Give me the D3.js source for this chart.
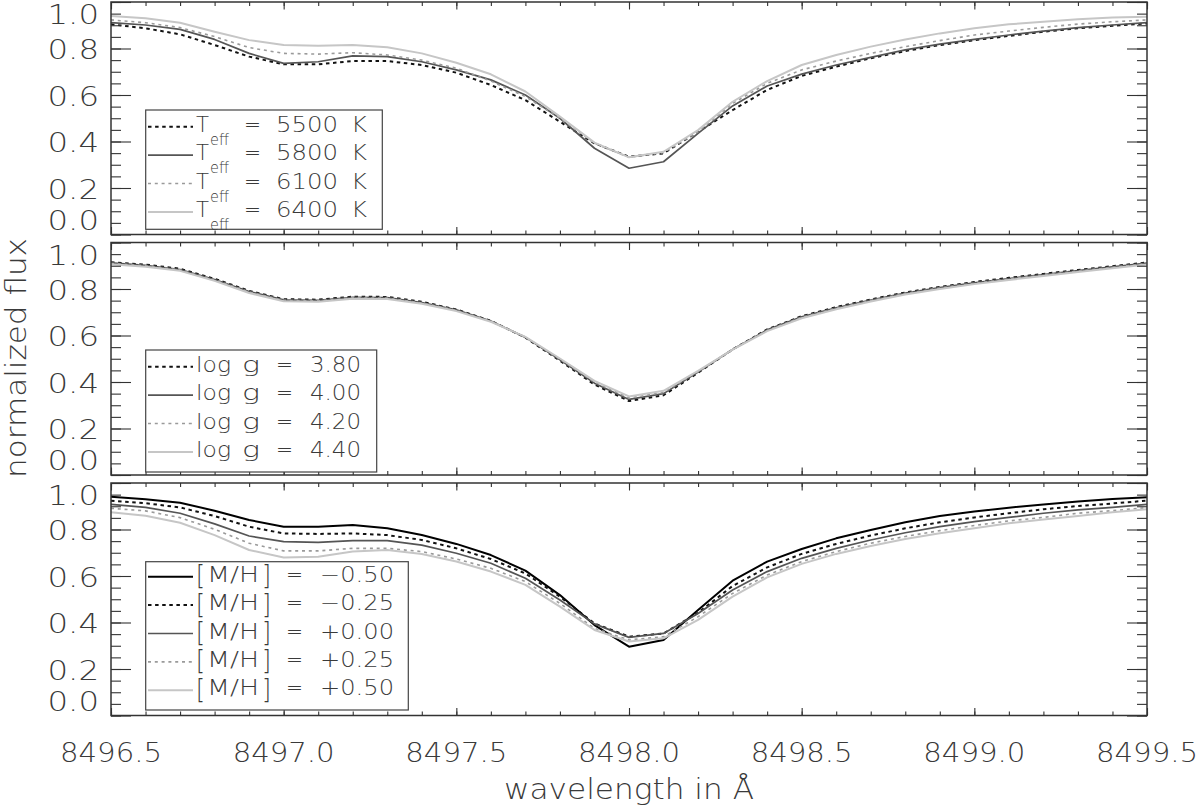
<!DOCTYPE html>
<html><head><meta charset="utf-8">
<script src="https://cdn.jsdelivr.net/npm/d3@7"></script>
<style>
body{margin:0;background:#fff;}
svg text{font-family:"DejaVu Sans",sans-serif;font-weight:200;fill:#3a3a3a;}
</style></head><body><svg id="c" width="1200" height="807"></svg>
<script>
// ---------------- data ----------------
const wavelength = [8496.5,8496.6,8496.7,8496.8,8496.9,8497.0,8497.1,8497.2,8497.3,8497.4,8497.5,8497.6,8497.7,8497.8,8497.9,8498.0,
  8498.1,8498.2,8498.3,8498.4,8498.5,8498.6,8498.7,8498.8,8498.9,8499.0,8499.1,8499.2,8499.3,8499.4,8499.5];

const teff5500 = [0.904,0.887,0.861,0.815,0.765,0.732,0.732,0.746,0.746,0.729,0.696,0.643,0.578,0.485,0.392,0.335,0.349,0.442,0.535,0.622,0.682,0.722,0.758,0.789,0.815,0.836,0.854,0.872,0.887,0.898,0.908];
const teff5800 = [0.911,0.901,0.882,0.839,0.779,0.736,0.743,0.768,0.765,0.743,0.708,0.665,0.600,0.500,0.371,0.285,0.313,0.435,0.553,0.639,0.690,0.729,0.762,0.794,0.819,0.839,0.858,0.875,0.890,0.901,0.911];
const teff6100 = [0.923,0.911,0.890,0.851,0.804,0.779,0.776,0.782,0.772,0.750,0.715,0.660,0.593,0.500,0.392,0.332,0.352,0.442,0.564,0.650,0.708,0.746,0.779,0.808,0.834,0.858,0.875,0.891,0.905,0.915,0.923];
const teff6400 = [0.940,0.930,0.911,0.872,0.836,0.815,0.812,0.815,0.805,0.779,0.739,0.689,0.615,0.507,0.395,0.332,0.356,0.449,0.571,0.660,0.729,0.772,0.808,0.839,0.865,0.887,0.904,0.915,0.926,0.933,0.937];

const logg380 = [0.915,0.905,0.887,0.844,0.792,0.756,0.754,0.767,0.766,0.745,0.712,0.663,0.591,0.492,0.389,0.318,0.343,0.440,0.540,0.626,0.683,0.722,0.755,0.785,0.809,0.830,0.848,0.865,0.882,0.898,0.914];
const logg400 = [0.912,0.902,0.884,0.841,0.789,0.753,0.751,0.764,0.763,0.742,0.710,0.662,0.592,0.495,0.395,0.325,0.350,0.443,0.540,0.624,0.680,0.719,0.752,0.782,0.806,0.827,0.845,0.862,0.879,0.895,0.911];
const logg420 = [0.910,0.900,0.882,0.839,0.787,0.751,0.749,0.762,0.761,0.740,0.708,0.661,0.593,0.498,0.400,0.331,0.355,0.445,0.540,0.622,0.678,0.717,0.750,0.780,0.804,0.825,0.843,0.860,0.877,0.893,0.909];
const logg440 = [0.906,0.896,0.878,0.835,0.783,0.747,0.745,0.758,0.757,0.737,0.705,0.659,0.594,0.501,0.405,0.338,0.362,0.448,0.539,0.619,0.674,0.713,0.746,0.776,0.800,0.821,0.839,0.856,0.873,0.889,0.905];

const mhM050 = [0.941,0.930,0.915,0.881,0.841,0.812,0.812,0.819,0.805,0.776,0.738,0.690,0.623,0.518,0.389,0.296,0.325,0.454,0.580,0.662,0.716,0.762,0.798,0.831,0.858,0.877,0.894,0.908,0.920,0.931,0.939];
const mhM025 = [0.924,0.913,0.895,0.858,0.812,0.783,0.781,0.783,0.776,0.755,0.719,0.673,0.611,0.511,0.396,0.339,0.353,0.442,0.557,0.637,0.695,0.738,0.774,0.805,0.831,0.852,0.870,0.887,0.901,0.912,0.924];
const mhP000 = [0.908,0.895,0.870,0.824,0.772,0.748,0.745,0.752,0.752,0.733,0.698,0.655,0.590,0.497,0.394,0.336,0.353,0.439,0.540,0.619,0.676,0.719,0.755,0.786,0.812,0.834,0.852,0.870,0.884,0.895,0.908];
const mhP025 = [0.891,0.880,0.851,0.801,0.741,0.708,0.708,0.719,0.719,0.705,0.673,0.633,0.576,0.482,0.375,0.325,0.339,0.425,0.525,0.604,0.662,0.705,0.741,0.770,0.795,0.817,0.837,0.852,0.870,0.881,0.894];
const mhP050 = [0.874,0.859,0.829,0.776,0.712,0.680,0.683,0.705,0.712,0.695,0.662,0.619,0.562,0.468,0.368,0.318,0.332,0.411,0.511,0.594,0.652,0.695,0.729,0.759,0.784,0.805,0.827,0.843,0.858,0.874,0.887];

const teffLabels = ["5500","5800","6100","6400"];
const loggLabels = ["3.80","4.00","4.20","4.40"];
const mhLabels = ["\u22120.50","\u22120.25","+0.00","+0.25","+0.50"];
const xTickValues = [8496.5,8497.0,8497.5,8498.0,8498.5,8499.0,8499.5];
const yTickValues = [0.0,0.2,0.4,0.6,0.8,1.0];
const xTitle = "wavelength in \u00C5";
const yTitle = "normalized flux";

// ---------------- styles ----------------
const ST = {
  blackSolid: {stroke:"#000", w:2.0, dash:null},
  blackDot:   {stroke:"#111", w:2.0, dash:"3.5,3.6"},
  darkSolid:  {stroke:"#555", w:1.7, dash:null},
  grayDot:    {stroke:"#9a9a9a", w:1.6, dash:"3,3.8"},
  lightSolid: {stroke:"#c6c6c6", w:2.0, dash:null}
};

const svg = d3.select("#c");
const x = d3.scaleLinear().domain([8496.5, 8499.5]).range([111, 1147]);

const panels = [
  {top:2, bottom:234.5, kind:"teff",
   series:[{v:teff5500,s:ST.blackDot},{v:teff5800,s:ST.darkSolid},{v:teff6100,s:ST.grayDot},{v:teff6400,s:ST.lightSolid}],
   box:[145.7,110,382.3,229.3], base0:131.7},
  {top:242.5, bottom:475, kind:"logg",
   series:[{v:logg380,s:ST.blackDot},{v:logg400,s:ST.darkSolid},{v:logg420,s:ST.grayDot},{v:logg440,s:ST.lightSolid}],
   box:[145.7,350,376.7,472], base0:371.7},
  {top:483, bottom:715.5, kind:"mh",
   series:[{v:mhM050,s:ST.blackSolid},{v:mhM025,s:ST.blackDot},{v:mhP000,s:ST.darkSolid},{v:mhP025,s:ST.grayDot},{v:mhP050,s:ST.lightSolid}],
   box:[145.7,561.7,408.3,710], base0:581.7}
];

function txt(g, str, px, py, fs, anchor, sx){
  return g.append("text").text(str)
    .attr("transform", `translate(${px},${py}) scale(${sx||1.1},1)`)
    .attr("font-size", fs).attr("text-anchor", anchor||"start");
}

const rowGap = 28.4;
const LFS = 21;
const minorX = d3.range(0, 31).map(i => 8496.5 + i*0.1);
const minorY = d3.range(0, 21).map(i => i*0.05);

// one legend row = one text element; pieces at absolute x, optional fitted width
function legendRow(g, bl, pieces){
  const t = g.append("text").attr("x", pieces[0].x).attr("y", bl).attr("font-size", LFS);
  let cur = 0;
  pieces.forEach(pc => {
    const dy = (pc.dy||0) - cur; cur = pc.dy||0;
    const ts = t.append("tspan").attr("x", pc.x).attr("dy", dy).text(pc.s);
    if (pc.fs) ts.attr("font-size", pc.fs);
    if (pc.w) ts.attr("textLength", pc.w).attr("lengthAdjust", "spacingAndGlyphs");
  });
  return t;
}

panels.forEach((p, pi) => {
  const y = d3.scaleLinear().domain([0,1]).range([p.bottom, p.top]);
  const g = svg.append("g");

  // curves
  const line = d3.line().x((d,i)=>x(wavelength[i])).y(d=>y(d));
  p.series.forEach(se => {
    g.append("path").datum(se.v).attr("d", line)
      .attr("fill","none").attr("stroke", se.s.stroke).attr("stroke-width", se.s.w)
      .attr("stroke-dasharray", se.s.dash).attr("stroke-linejoin","round");
  });

  // axes (ticks inward)
  const axCol = "#333";
  const mk = (axis, tr) => {
    const a = g.append("g").attr("transform", tr).call(axis);
    a.select(".domain").remove();
    a.selectAll("line").attr("stroke", axCol).attr("stroke-width", 1.1);
    a.selectAll("text").remove();
  };
  mk(d3.axisLeft(y).tickValues(minorY).tickSize(-10).tickSizeOuter(0), `translate(${x.range()[0]},0)`);
  mk(d3.axisLeft(y).tickValues(yTickValues).tickSize(-20).tickSizeOuter(0), `translate(${x.range()[0]},0)`);
  mk(d3.axisRight(y).tickValues(minorY).tickSize(-10).tickSizeOuter(0), `translate(${x.range()[1]},0)`);
  mk(d3.axisRight(y).tickValues(yTickValues).tickSize(-20).tickSizeOuter(0), `translate(${x.range()[1]},0)`);
  mk(d3.axisTop(x).tickValues(minorX).tickSize(-4).tickSizeOuter(0), `translate(0,${p.top})`);
  mk(d3.axisTop(x).tickValues(xTickValues).tickSize(-7.5).tickSizeOuter(0), `translate(0,${p.top})`);
  mk(d3.axisBottom(x).tickValues(minorX).tickSize(-4).tickSizeOuter(0), `translate(0,${p.bottom})`);
  mk(d3.axisBottom(x).tickValues(xTickValues).tickSize(-7.5).tickSizeOuter(0), `translate(0,${p.bottom})`);

  g.append("rect").attr("x", x.range()[0]).attr("y", p.top)
    .attr("width", x.range()[1]-x.range()[0]).attr("height", p.bottom-p.top)
    .attr("fill","none").attr("stroke", axCol).attr("stroke-width", 1.5);

  // y tick labels
  yTickValues.forEach(v => {
    let off = 10.5;
    if (v === 1) off = 22;
    if (v === 0) off = -5;
    txt(g, v.toFixed(1), 99, y(v)+off, 27, "end", 1.2);
  });

  // legend
  const b = p.box;
  g.append("rect").attr("x", b[0]).attr("y", b[1]).attr("width", b[2]-b[0]).attr("height", b[3]-b[1])
    .attr("fill","#fff").attr("stroke","#444").attr("stroke-width",1.2);
  p.series.forEach((se, i) => {
    const bl = p.base0 + i*rowGap;
    g.append("line").attr("x1",148).attr("x2",193).attr("y1",bl-5).attr("y2",bl-5)
      .attr("stroke", se.s.stroke).attr("stroke-width", se.s.w).attr("stroke-dasharray", se.s.dash);
    if (p.kind === "teff") {
      legendRow(g, bl, [
        {x:196, s:"T", w:13}, {x:210, s:"eff", dy:13, fs:15, w:19},
        {x:244, s:"=", w:17}, {x:276, s:teffLabels[i], w:62}, {x:351, s:"K", w:16}]);
    } else if (p.kind === "logg") {
      legendRow(g, bl, [
        {x:196, s:"log", w:35}, {x:242, s:"g", w:18}, {x:276, s:"=", w:17}, {x:310, s:loggLabels[i], w:51}]);
    } else {
      legendRow(g, bl, [
        {x:196, s:"[", dy:2.5, fs:26, w:9}, {x:207, s:"M/H", w:52}, {x:262, s:"]", dy:2.5, fs:26, w:9},
        {x:286, s:"=", w:17}, {x:320, s:mhLabels[i], w:74}]);
    }
  });

  if (pi === 2) {
    xTickValues.forEach(v => txt(g, v.toFixed(1), x(v), 762, 27, "middle", 1.08));
  }
});

// axis titles
svg.append("text").text(xTitle).attr("x", 629).attr("y", 799).attr("font-size", 28)
  .attr("text-anchor","middle").attr("textLength", 250).attr("lengthAdjust","spacingAndGlyphs");
svg.append("text").text(yTitle).attr("transform","translate(26,358) rotate(-90)").attr("font-size", 28)
  .attr("text-anchor","middle").attr("textLength", 240).attr("lengthAdjust","spacingAndGlyphs");
</script></body></html>
